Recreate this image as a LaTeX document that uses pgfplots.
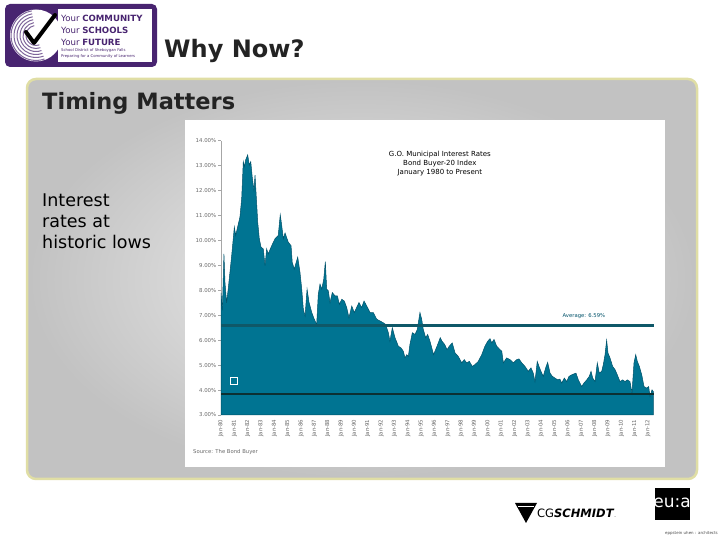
\documentclass[border=0pt]{standalone}
\usepackage{pgfplots}
\pgfplotsset{compat=1.18}
\usepackage{pgfplotstable}
\usepackage{fontspec}
\setmainfont{DejaVu Sans}
\definecolor{fillteal}{RGB}{0,116,146}
\definecolor{edgeteal}{RGB}{0,82,106}
\definecolor{avgline}{RGB}{15,88,104}
\definecolor{lowline}{RGB}{12,48,50}
\definecolor{tickgray}{RGB}{105,105,105}
\definecolor{logopurple}{RGB}{72,36,112}
\definecolor{panelborder}{RGB}{224,222,165}
\definecolor{titlegray}{RGB}{35,35,35}
\pgfplotstableread{
yr rate
1980.00 7.90
1980.10 7.20
1980.22 9.46
1980.30 8.30
1980.42 7.50
1980.55 8.10
1980.80 9.39
1981.00 10.54
1981.10 10.20
1981.42 10.94
1981.55 11.68
1981.67 13.16
1981.75 12.96
1981.85 13.23
1982.00 13.43
1982.12 13.02
1982.23 13.16
1982.35 12.49
1982.47 12.02
1982.55 12.62
1982.68 11.41
1982.75 10.74
1982.87 10.07
1983.00 9.73
1983.17 9.66
1983.30 8.99
1983.42 9.66
1983.54 9.46
1983.80 9.79
1984.05 10.07
1984.29 10.20
1984.44 11.03
1984.55 10.60
1984.67 10.07
1984.80 10.30
1985.04 9.93
1985.25 9.79
1985.34 9.12
1985.49 8.85
1985.75 9.33
1985.92 8.72
1986.05 8.05
1986.17 7.24
1986.30 6.97
1986.45 8.05
1986.60 7.51
1986.80 7.11
1986.99 6.84
1987.17 6.63
1987.29 7.84
1987.42 8.25
1987.55 8.05
1987.70 8.45
1987.82 9.15
1987.92 8.05
1988.04 7.98
1988.17 7.51
1988.34 7.91
1988.54 7.78
1988.72 7.78
1988.87 7.44
1989.05 7.64
1989.24 7.57
1989.42 7.31
1989.59 6.90
1989.80 7.37
1989.99 7.11
1990.34 7.51
1990.54 7.31
1990.72 7.57
1990.92 7.37
1991.17 7.11
1991.41 7.11
1991.67 6.84
1991.92 6.77
1992.16 6.70
1992.34 6.63
1992.54 6.30
1992.66 5.96
1992.84 6.50
1993.04 6.10
1993.29 5.76
1993.49 5.69
1993.66 5.56
1993.79 5.29
1993.92 5.42
1994.04 5.35
1994.16 5.83
1994.34 6.30
1994.54 6.23
1994.71 6.43
1994.91 7.11
1995.04 6.84
1995.16 6.43
1995.34 6.10
1995.49 6.23
1995.66 5.96
1995.76 5.76
1995.93 5.42
1996.19 5.76
1996.43 6.10
1996.56 5.96
1996.76 5.83
1996.94 5.62
1997.11 5.76
1997.33 5.89
1997.54 5.49
1997.78 5.35
1998.04 5.09
1998.23 5.22
1998.41 5.09
1998.61 5.15
1998.83 4.95
1999.03 5.02
1999.28 5.15
1999.54 5.42
1999.78 5.76
1999.99 5.96
2000.16 6.06
2000.29 5.89
2000.46 6.03
2000.66 5.76
2000.91 5.62
2001.04 5.56
2001.16 5.09
2001.41 5.29
2001.66 5.22
2001.91 5.09
2002.16 5.22
2002.33 5.25
2002.54 5.09
2002.78 4.95
2003.03 4.75
2003.23 4.89
2003.40 4.68
2003.53 4.34
2003.70 5.15
2003.83 4.95
2003.98 4.75
2004.15 4.55
2004.33 4.89
2004.48 5.11
2004.66 4.68
2004.83 4.55
2005.03 4.48
2005.23 4.41
2005.40 4.44
2005.53 4.28
2005.73 4.48
2005.91 4.34
2006.08 4.55
2006.28 4.61
2006.60 4.68
2006.78 4.41
2007.03 4.14
2007.20 4.28
2007.41 4.41
2007.60 4.55
2007.73 4.75
2007.86 4.48
2008.03 4.34
2008.20 5.09
2008.35 4.68
2008.53 4.75
2008.65 5.02
2008.78 5.42
2008.90 6.00
2009.00 5.49
2009.15 5.29
2009.35 4.95
2009.53 4.82
2009.70 4.61
2009.90 4.34
2010.10 4.41
2010.28 4.34
2010.45 4.41
2010.65 4.34
2010.80 3.88
2010.95 5.09
2011.08 5.42
2011.20 5.15
2011.35 4.95
2011.53 4.61
2011.70 4.14
2011.90 4.08
2012.05 4.14
2012.15 3.74
2012.30 4.01
2012.40 3.94
}\bbdata
\begin{document}
\begin{tikzpicture}[x=1pt,y=1pt]
% page
\fill[white] (0,0) rectangle (720,540);
% logo
\fill[logopurple, rounded corners=5pt] (5,473) rectangle (157,536);
\fill[white] (58,478) rectangle (152,531);
\fill[white] (36,504.5) circle (26);
\foreach \r in {10,13,16,19,22,25}{
  \draw[logopurple!70, line width=1pt] (36,504.5) ++(100:\r) arc (100:290:\r);
}
\draw[black, line width=4pt, line cap=round, line join=round] (26,508) -- (34,497) -- (55,525);
\node[anchor=west, text=logopurple, font=\fontsize{8.6}{9}\selectfont, inner sep=0] at (61,522) {Your \textbf{COMMUNITY}};
\node[anchor=west, text=logopurple, font=\fontsize{8.6}{9}\selectfont, inner sep=0] at (61,510) {Your \textbf{SCHOOLS}};
\node[anchor=west, text=logopurple, font=\fontsize{8.6}{9}\selectfont, inner sep=0] at (61,498) {Your \textbf{FUTURE}};
\node[anchor=west, text=logopurple, font=\fontsize{3.8}{4}\selectfont, inner sep=0] at (61,489.5) {School District of Sheboygan Falls};
\node[anchor=west, text=logopurple, font=\fontsize{3.8}{4}\selectfont, inner sep=0] at (61,484) {Preparing for a Community of Learners};
% title
\node[anchor=west, text=titlegray, font=\bfseries\fontsize{24}{26}\selectfont, inner sep=0] at (164,489) {Why Now?};
% panel
\shade[rounded corners=9pt, inner color=gray!12, outer color=gray!48] (27,61) rectangle (697,461);
\draw[panelborder, line width=2.5pt, rounded corners=9pt] (27,61) rectangle (697,461);
\node[anchor=west, text=titlegray, font=\bfseries\fontsize{22.5}{24}\selectfont, inner sep=0] at (42,437) {Timing Matters};
\node[anchor=north west, text=black, font=\fontsize{17.5}{21}\selectfont, align=left, inner sep=0] at (42,346) {Interest\\rates at\\historic lows};
% chart box
\fill[white] (185,73) rectangle (665,420);
\node[font=\fontsize{5.3}{6}\selectfont, text=tickgray, anchor=west, inner sep=0] at (193,88) {Source: The Bond Buyer};
\begin{axis}[
  at={(221pt,125pt)}, anchor=south west,
  scale only axis, width=433pt, height=274.3pt,
  xmin=1980, xmax=2012.45, ymin=3, ymax=14,
  axis x line*=bottom, axis y line*=left,
  x axis line style={draw=none},
  y axis line style={draw=gray!70, line width=0.6pt},
  ytick={3,4,...,14},
  yticklabel={\pgfmathprintnumber[fixed,fixed zerofill,precision=2]{\tick}\%},
  /pgf/number format/assume math mode=true,
  xtick={1980,1981,...,2012},
  xticklabels={Jan-80,Jan-81,Jan-82,Jan-83,Jan-84,Jan-85,Jan-86,Jan-87,Jan-88,Jan-89,Jan-90,Jan-91,Jan-92,Jan-93,Jan-94,Jan-95,Jan-96,Jan-97,Jan-98,Jan-99,Jan-00,Jan-01,Jan-02,Jan-03,Jan-04,Jan-05,Jan-06,Jan-07,Jan-08,Jan-09,Jan-10,Jan-11,Jan-12},
  x tick label style={rotate=90, anchor=east, font=\fontsize{5.4}{6}\selectfont, text=tickgray, inner sep=1.5pt},
  y tick label style={font=\fontsize{5.4}{6}\selectfont, text=tickgray, inner sep=1.5pt},
  tick align=outside, major tick length=3pt,
  tick style={gray!70, line width=0.5pt},
  xtick style={draw=none},
  clip=false,
]
\addplot[fill=fillteal, draw=edgeteal, line width=0.5pt] table[x=yr, y=rate] {\bbdata} \closedcycle;
\addplot[avgline, line width=2.2pt] coordinates {(1980,6.59) (2012.45,6.59)};
\addplot[lowline, line width=2.2pt] coordinates {(1980,3.85) (2012.45,3.85)};
\addplot[only marks, mark=square, mark size=3.5pt, mark options={draw=white, line width=0.7pt}] coordinates {(1980.97,4.37)};
\node[font=\fontsize{5.3}{6}\selectfont, text=edgeteal] at (axis cs:2007.2,6.98) {Average: 6.59\%};
\node[font=\fontsize{7}{8.6}\selectfont, align=center, text=black] at (axis cs:1996.4,13.08) {G.O. Municipal Interest Rates\\Bond Buyer-20 Index\\January 1980 to Present};
\end{axis}
% bottom logos
\fill[black] (515,37) -- (537,37) -- (526,17) -- cycle;
\fill[white] (518,33) rectangle (534,34.2);
\node[anchor=west, inner sep=0, font=\fontsize{11.5}{12}\selectfont] at (537,27) {CG\textbf{\textit{SCHMIDT}}\raisebox{0pt}{\tiny .}};
\fill[black] (655,20) rectangle (690,52);
\node[text=white, font=\fontsize{17}{17}\selectfont, inner sep=0] at (672,37) {eu:a};
\node[font=\fontsize{4}{4}\selectfont, text=black!70, anchor=east, inner sep=0] at (718,7) {eppstein uhen : architects};
\end{tikzpicture}
\end{document}
